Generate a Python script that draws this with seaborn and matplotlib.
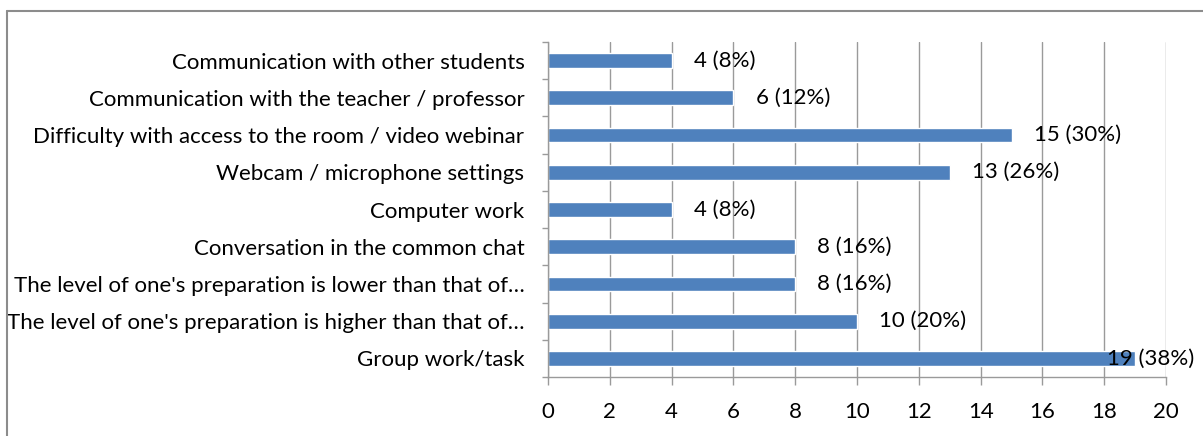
import numpy as np
import matplotlib
matplotlib.use("Agg")
import matplotlib.pyplot as plt
from matplotlib.ticker import FixedLocator
import seaborn as sns
import pandas as pd

# Chart data
categories = [
    "Communication with other students",
    "Communication with the teacher / professor",
    "Difficulty with access to the room / video webinar",
    "Webcam / microphone settings",
    "Computer work",
    "Conversation in the common chat",
    "The level of one's preparation is lower than that of\u2026",
    "The level of one's preparation is higher than that of\u2026",
    "Group work/task",
]
counts = [4, 6, 15, 13, 4, 8, 8, 10, 19]
percents = [8, 12, 30, 26, 8, 16, 16, 20, 38]
x_ticks = list(range(0, 21, 2))

sns.set_theme(style="white")
plt.rcParams["font.family"] = ["Lato", "DejaVu Sans"]
plt.rcParams["font.size"] = 16

df = pd.DataFrame({"category": categories, "count": counts})

fig = plt.figure(figsize=(12.03, 4.36), dpi=100)
ax = fig.add_axes([548 / 1203, 1 - 377 / 436, (1166 - 548) / 1203, (377 - 42) / 436])

sns.barplot(data=df, x="count", y="category", orient="h", color="#4F81BD",
            width=0.4, saturation=1, ax=ax)

ax.set_xlim(0, 20)
ax.set_ylim(len(categories) - 0.5, -0.5)
ax.set_xticks(x_ticks)
ax.set_xlabel("")
ax.set_ylabel("")

grid_col = "#9A9A9A"
ax.grid(axis="x", color=grid_col, linewidth=1.0)
ax.set_axisbelow(True)
for side in ["top", "right"]:
    ax.spines[side].set_visible(False)
for side in ["left", "bottom"]:
    ax.spines[side].set_color(grid_col)
    ax.spines[side].set_linewidth(1.0)

# y ticks sit between categories
ax.yaxis.set_minor_locator(FixedLocator(np.arange(-0.5, len(categories), 1.0)))
ax.tick_params(axis="y", which="major", length=0, pad=17, labelsize=16, colors="black")
ax.tick_params(axis="y", which="minor", length=4.5, width=1, color=grid_col, left=True)
ax.tick_params(axis="x", which="major", length=6, width=1, color=grid_col,
               bottom=True, pad=12, labelsize=16, labelcolor="black")

# value labels
for i, (c, p) in enumerate(zip(counts, percents)):
    off = 16 if c < 19 else -20
    ax.annotate(f"{c} ({p}%)", xy=(c, i), xytext=(off, 0), textcoords="offset points",
                ha="left", va="center", fontsize=16, color="black",
                annotation_clip=False)

# chart frame (cropped: only top and left edges visible)
fig.add_artist(plt.Line2D([7 / 1203, 1], [1 - 11 / 436, 1 - 11 / 436],
                          transform=fig.transFigure, color="#8C8C8C", linewidth=1.5))
fig.add_artist(plt.Line2D([7 / 1203, 7 / 1203], [0, 1 - 11 / 436],
                          transform=fig.transFigure, color="#8C8C8C", linewidth=1.5))

fig.savefig("out.png", dpi=100)
